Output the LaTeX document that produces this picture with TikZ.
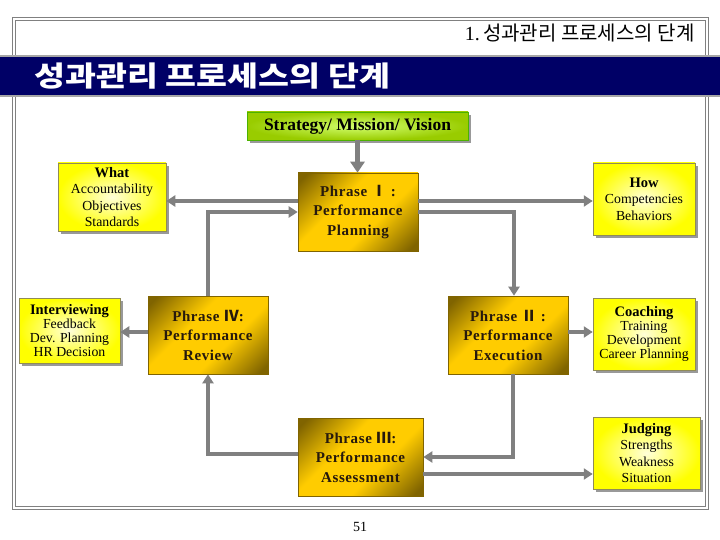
\documentclass[tikz,border=0pt]{standalone}
\usepackage{fontspec}
\setmainfont{Liberation Serif}
\newfontfamily\krfont{Noto Sans CJK KR}
\newfontfamily\krwide[FakeStretch=1.2]{Noto Sans CJK KR}
\newfontfamily\phrasefont[LetterSpace=4]{Liberation Serif}
\usetikzlibrary{arrows.meta,positioning,shadows}

\definecolor{navyband}{RGB}{0,0,102}
\definecolor{flowgray}{RGB}{128,128,128}
\definecolor{golddark}{RGB}{128,100,0}
\definecolor{goldmid}{RGB}{255,204,0}
\definecolor{limedark}{RGB}{153,204,0}
\definecolor{limelight}{RGB}{210,255,110}
\definecolor{boxyellow}{RGB}{255,255,0}

\pgfdeclareverticalshading{goldbox}{100bp}{color(0bp)=(golddark); color(18bp)=(golddark); color(40bp)=(goldmid); color(60bp)=(goldmid); color(82bp)=(golddark); color(100bp)=(golddark)}

\begin{document}
\begin{tikzpicture}
  [x=1pt,y=-1pt,
  phase/.style={draw=golddark,line width=.6pt,shading=goldbox,shading angle=45,
    minimum width=120pt,minimum height=78pt,align=center,inner sep=0pt,
    font=\phrasefont\bfseries\fontsize{15}{19.5}\selectfont,text=black!80!brown},
  detail/.style={draw=gray!60!olive,line width=.5pt,inner color=yellow!15!white,outer color=boxyellow,
    drop shadow={shadow xshift=3pt,shadow yshift=-3pt,fill=gray!80,opacity=1},
    align=center,inner sep=0pt,font=\fontsize{13.8}{16.5}\selectfont},
  tight/.style={font=\fontsize{13.8}{13.8}\selectfont},
  strat/.style={draw=green!40!olive,line width=.5pt,inner color=limelight,outer color=limedark,
    drop shadow={shadow xshift=3pt,shadow yshift=-3pt,fill=gray!80,opacity=1},
    minimum width=221pt,minimum height=28pt,font=\bfseries\fontsize{17.5}{19}\selectfont},
  flow/.style={draw=flowgray,line width=4pt,-{Triangle[length=9pt,width=11pt]}},
  frame/.style={draw=gray,double=white,double distance=2pt,line width=.8pt}]
  \useasboundingbox (0,0) rectangle (720,540);

  % frame and title band
  \draw[frame] (14,19) rectangle (707,508);
  \fill[gray!70] (0,55) rectangle (720,97);
  \fill[navyband] (0,57) rectangle (720,95);
  \node[anchor=east,font=\fontsize{20}{22}\selectfont] (hdr) at (698,33) {1.\,{\krfont 성과관리 프로세스의 단계}};
  \node[anchor=west,text=white,font=\krwide\bfseries\fontsize{28}{30}\selectfont] (ttl) at (31,76) {성과관리 프로세스의 단계};

  \node[strat] (smv) at (357.5,126) {Strategy/ Mission/ Vision};

  % phases
  \node[phase] (p1) at (358,212) {Phrase {\krfont Ⅰ} :\\Performance\\Planning};
  \node[phase] (p2) at (508,335) {Phrase {\krfont Ⅱ} :\\Performance\\Execution};
  \node[phase,minimum width=125pt] (p3) at (360.5,457) {Phrase {\krfont Ⅲ}:\\Performance\\Assessment};
  \node[phase] (p4) at (208,335) {Phrase {\krfont Ⅳ}:\\Performance\\Review};

  % side boxes
  \node[detail,minimum width=108pt,minimum height=68pt] (what) at (112,197)
    {{\bfseries\fontsize{14.5}{16}\selectfont What}\\Accountability\\Objectives\\Standards};
  \node[detail,minimum width=102pt,minimum height=72pt] (how) at (644,199)
    {{\bfseries\fontsize{14.5}{16}\selectfont How}\\Competencies\\Behaviors};
  \node[detail,tight,minimum width=101pt,minimum height=65pt] (intv) at (69.5,330.5)
    {{\bfseries\fontsize{14.5}{16}\selectfont Interviewing}\\Feedback\\Dev. Planning\\HR Decision};
  \node[detail,tight,minimum width=102pt,minimum height=72pt] (coach) at (644,334)
    {{\bfseries\fontsize{14.5}{16}\selectfont Coaching}\\Training\\Development\\Career Planning};
  \node[detail,minimum width=107pt,minimum height=72pt] (judg) at (646.5,453)
    {{\bfseries\fontsize{14.5}{16}\selectfont Judging}\\Strengths\\Weakness\\Situation};

  \node[font=\fontsize{14}{16}\selectfont] (pg) at (360,527) {51};

  % connectors
  \draw[flow,line width=5pt,-{Triangle[length=11pt,width=14pt]}] (smv.south) -- (smv.south |- p1.north);
  \draw[flow] (p1.west) ++(0,-11) coordinate (p1w) -- (p1w -| what.east);
  \draw[flow] (p1.east) ++(0,-11) coordinate (p1e) -- (p1e -| how.west);
  \draw[flow] (p1.east) -| ([xshift=6pt]p2.north);
  \draw[flow] (p2.east) ++(0,-3) coordinate (p2e) -- (p2e -| coach.west);
  \draw[flow] ([xshift=5pt]p2.south) |- (p3.east);
  \draw[flow] (p3.east) ++(0,17) coordinate (p3e) -- (p3e -| judg.west);
  \draw[flow] (p3.west) ++(0,-3) coordinate (p3w) -| (p4.south);
  \draw[flow] (p4.north) |- (p1.west);
  \draw[flow] (p4.west) ++(0,-3) coordinate (p4w) -- (p4w -| intv.east);
\end{tikzpicture}
\end{document}
